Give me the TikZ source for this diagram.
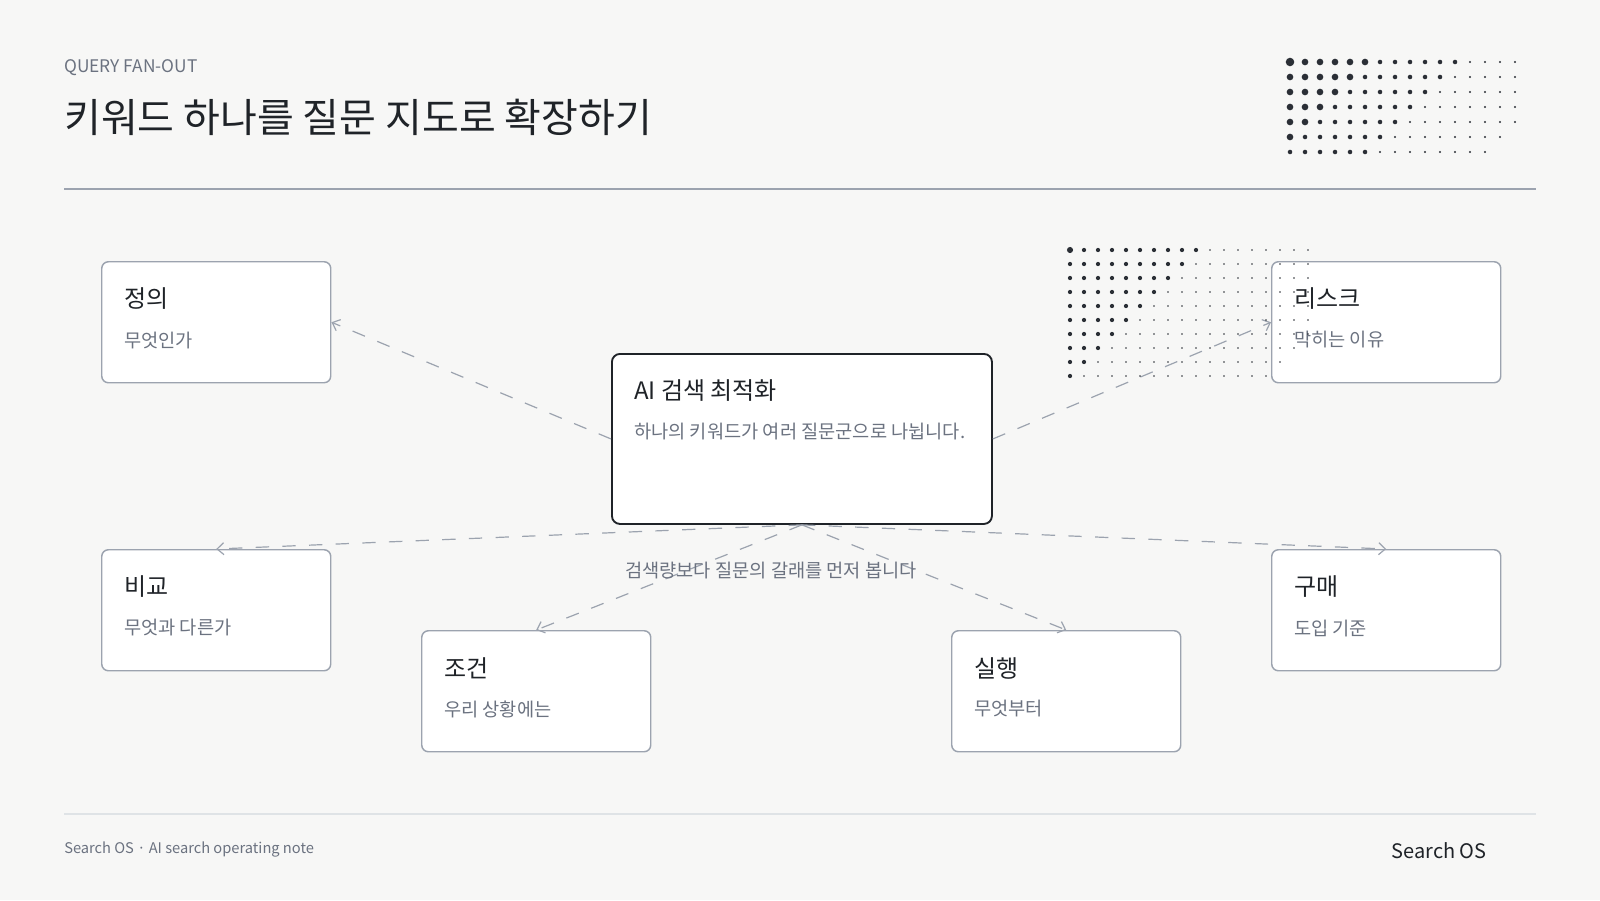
\documentclass[tikz,border=0pt]{standalone}
\usepackage{fontspec}
\setmainfont{Noto Sans CJK KR}
\usepackage{tikz}
\usetikzlibrary{arrows.meta,positioning,calc}
\definecolor{paper}{HTML}{F7F7F6}
\definecolor{ink}{HTML}{1F2328}
\definecolor{muted}{HTML}{6B7280}
\definecolor{line}{HTML}{9CA3AF}
\definecolor{rule}{HTML}{DFE3E6}
\definecolor{dotink}{HTML}{2B2F36}
\newcommand{\facetcard}[4]{%
  \node[card,anchor=north west] (#1) at (#2) {};
  \node[cardtitle] (#1-title) at ($(#1.north west)+(23,38)$) {#3};
  \node[cardsub] (#1-sub) at ($(#1.north west)+(23,79)$) {#4};
}
\tikzset{
  card/.style={draw=line,fill=white,rounded corners=5pt,line width=1.1pt,minimum width=171.75pt,minimum height=90.75pt,inner sep=0pt},
  hubcard/.style={draw=ink,fill=white,rounded corners=6pt,line width=1.4pt,minimum width=285pt,minimum height=127.5pt,inner sep=0pt},
  cardtitle/.style={anchor=west,inner sep=0pt,font=\fontsize{18pt}{22pt}\selectfont,text=ink},
  cardsub/.style={anchor=west,inner sep=0pt,font=\fontsize{14pt}{17pt}\selectfont,text=muted},
  flow/.style={-{Straight Barb[length=5pt,width=9pt]},line width=0.9pt,draw=line,dash pattern=on 10pt off 10pt},
  note/.style={inner sep=0pt,font=\fontsize{14pt}{17pt}\selectfont,text=muted}
}
\begin{document}
\begin{tikzpicture}[x=0.75pt,y=-0.75pt]
  \fill[paper] (0,0) rectangle (1600,900);
  \useasboundingbox (0,0) rectangle (1600,900);
  % header
  \node[anchor=west,inner sep=0pt,font=\fontsize{13pt}{15pt}\selectfont,text=muted] (kicker) at (64,68) {QUERY FAN-OUT};
  \node[anchor=west,inner sep=0pt,font=\fontsize{30pt}{36pt}\selectfont,text=ink] (headline) at (64,117) {키워드 하나를 질문 지도로 확장하기};
  \draw[line,line width=1.5pt] (64,189) -- (1536,189);
  % cards
  \node[hubcard,anchor=north west] (hub) at (611,353) {};
  \node[cardtitle] (hub-title) at ($(hub.north west)+(23,38)$) {AI 검색 최적화};
  \node[cardsub] (hub-sub) at ($(hub.north west)+(23,79)$) {하나의 키워드가 여러 질문군으로 나뉩니다.};
  \facetcard{define}{101,261}{정의}{무엇인가}
  \facetcard{risk}{1271,261}{리스크}{막히는 이유}
  \facetcard{compare}{101,549}{비교}{무엇과 다른가}
  \facetcard{buy}{1271,549}{구매}{도입 기준}
  \facetcard{condition}{421,630}{조건}{우리 상황에는}
  \facetcard{act}{951,630}{실행}{무엇부터}
  \draw[flow] (hub.west) -- (define.east);
  \draw[flow] (hub.east) -- (risk.west);
  \draw[flow] (hub.south) -- (compare.north);
  \draw[flow] (hub.south) -- (buy.north);
  \draw[flow] (hub.south) -- (condition.north);
  \draw[flow] (hub.south) -- (act.north);
  \node[note] (fanlabel) at (771,571) {검색량보다 질문의 갈래를 먼저 봅니다};
  % dot grids
  \foreach \r in {1,...,7}{
    \foreach \c in {1,...,16}{
      \pgfmathtruncatemacro\s{\c+\r}
      \ifnum\s<22
        \ifnum\s=2 \def\rad{3.2pt}\else\ifnum\s<8 \def\rad{2.5pt}\else\ifnum\s<14 \def\rad{1.7pt}\else\def\rad{0.9pt}\fi\fi\fi
        \fill[dotink] ({1290+(\c-1)*15},{62+(\r-1)*15}) circle[radius=\rad];
      \fi
    }
  }
  \foreach \r in {1,...,10}{
    \foreach \c in {1,...,18}{
      \pgfmathtruncatemacro\s{\c+\r}
      \ifnum\s<26
        \ifnum\s=2 \def\rad{2.3pt}\else\ifnum\s<12 \def\rad{1.6pt}\else\def\rad{0.7pt}\fi\fi
        \fill[dotink] ({1070+(\c-1)*14},{250+(\r-1)*14}) circle[radius=\rad];
      \fi
    }
  }
  % footer
  \draw[rule,line width=1.5pt] (64,814) -- (1536,814);
  \node[anchor=west,inner sep=0pt,font=\fontsize{11pt}{13pt}\selectfont,text=muted] (footnote) at (64,849) {Search OS · AI search operating note};
  \node[anchor=east,inner sep=0pt,font=\fontsize{15pt}{18pt}\selectfont,text=ink] (brand) at (1487,851) {Search OS};
\end{tikzpicture}
\end{document}
